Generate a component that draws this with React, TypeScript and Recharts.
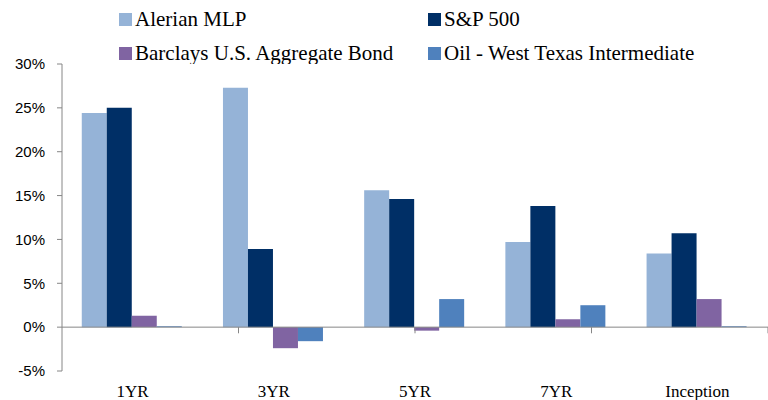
import React from 'react';
import { BarChart, Bar, XAxis, YAxis, ReferenceLine } from 'recharts';

const categories = ['1YR', '3YR', '5YR', '7YR', 'Inception'];
const alerian = [24.4, 27.3, 15.6, 9.7, 8.4];
const sp500 = [25.0, 8.9, 14.6, 13.8, 10.7];
const bond = [1.3, -2.4, -0.4, 0.9, 3.2];
const oil = [0.1, -1.6, 3.2, 2.5, 0.1];
const yTicks = [-5, 0, 5, 10, 15, 20, 25, 30];
const boundaries = [1, 2, 3, 4];

const series = [
  { key: 'alerian', name: 'Alerian MLP', color: '#95B3D7' },
  { key: 'sp500', name: 'S&P 500', color: '#002F66' },
  { key: 'bond', name: 'Barclays U.S. Aggregate Bond', color: '#8064A2' },
  { key: 'oil', name: 'Oil - West Texas Intermediate', color: '#4F81BD' },
];

const data = categories.map((c, i) => ({
  cat: c,
  alerian: alerian[i],
  sp500: sp500[i],
  bond: bond[i],
  oil: oil[i],
}));

const legendPos = [
  { x: 119, y: 13 },
  { x: 428, y: 13 },
  { x: 119, y: 47 },
  { x: 428, y: 47 },
];

const LegendBlock = () => (
  <svg
    width={768}
    height={64}
    style={{ position: 'absolute', left: 0, top: 0, pointerEvents: 'none' }}
  >
    {series.map((s, i) => (
      <g key={s.key}>
        <rect x={legendPos[i].x} y={legendPos[i].y} width={13} height={13} fill={s.color} />
        <text
          x={legendPos[i].x + 16}
          y={legendPos[i].y + 13}
          fontFamily="Liberation Serif"
          fontSize={21}
          fill="#000"
        >
          {s.name}
        </text>
      </g>
    ))}
  </svg>
);

export default function App() {
  return (
    <div style={{ position: 'absolute', left: 0, top: 0, width: 768, height: 400, background: '#fff' }}>
      <BarChart
        width={768}
        height={400}
        data={data}
        margin={{ top: 64, right: 0, bottom: 0, left: 0 }}
        barCategoryGap="14%"
        barGap={0}
      >
        <XAxis
          dataKey="cat"
          xAxisId="c"
          height={29}
          axisLine={false}
          tickLine={false}
          tickMargin={8}
          interval={0}
          tick={{ fontFamily: 'Liberation Serif', fontSize: 17, fill: '#000' }}
        />
        <XAxis xAxisId="n" type="number" domain={[0, 5]} hide />
        <YAxis
          width={62}
          domain={[-5, 30]}
          ticks={yTicks}
          interval={0}
          tickFormatter={(v) => `${v}%`}
          axisLine={{ stroke: '#868686' }}
          tickLine={{ stroke: '#868686' }}
          tickSize={5}
          tickMargin={12}
          tick={{ fontFamily: 'Liberation Sans', fontSize: 15, fill: '#000' }}
        />
        {series.map((s) => (
          <Bar key={s.key} xAxisId="c" dataKey={s.key} name={s.name} fill={s.color} isAnimationActive={false} />
        ))}
        <ReferenceLine xAxisId="c" y={0} stroke="#868686" strokeWidth={1} />
        {boundaries.map((b) => (
          <ReferenceLine
            key={b}
            xAxisId="n"
            segment={[{ x: b, y: 0 }, { x: b, y: -0.7 }]}
            stroke="#868686"
            strokeWidth={1}
          />
        ))}
      </BarChart>
      <LegendBlock />
    </div>
  );
}
